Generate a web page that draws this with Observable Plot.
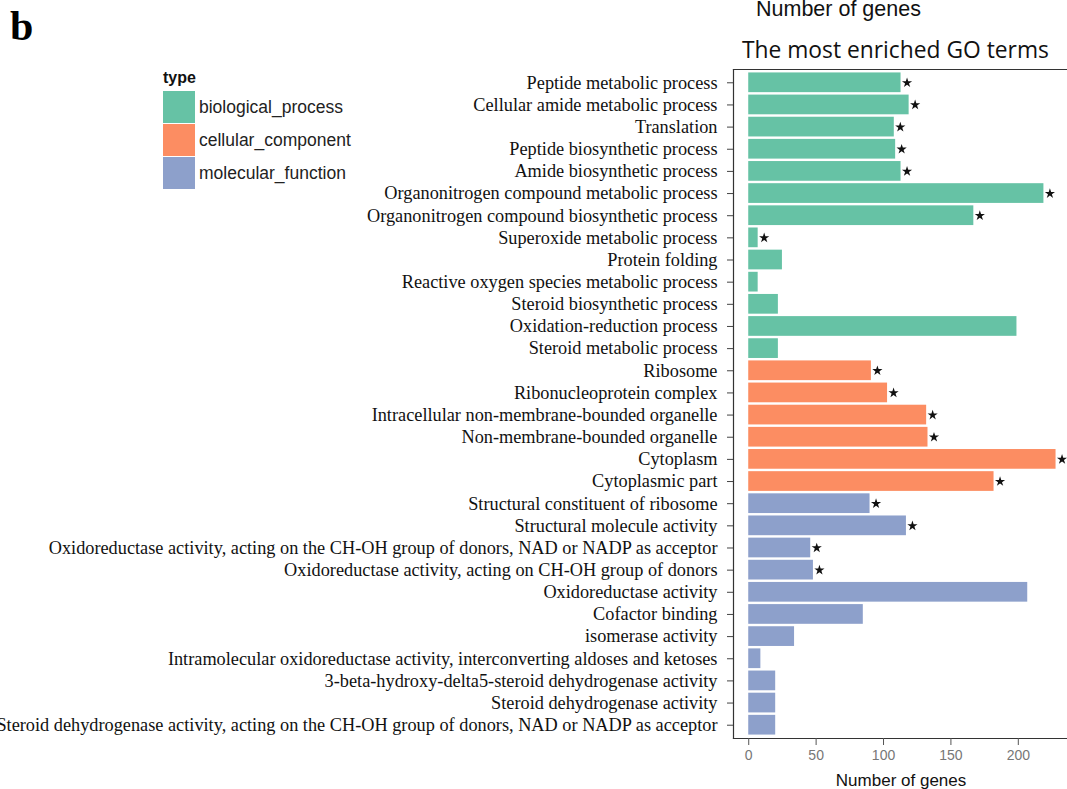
<!DOCTYPE html>
<html>
<head>
<meta charset="utf-8">
<script src="https://cdn.jsdelivr.net/npm/d3@7"></script>
<script src="https://cdn.jsdelivr.net/npm/@observablehq/plot@0.6"></script>
<style>
  html, body { margin: 0; padding: 0; background: #fff; overflow: hidden; }
  #wrap { position: relative; width: 1067px; height: 789px; }
  #wrap svg { overflow: visible; }
  .panel-tag { position: absolute; left: 10px; top: 2px; font: bold 42px "Liberation Serif", serif; color: #000; }
  .top-title { position: absolute; left: 756px; top: -1px; font: 21.5px/1 "Liberation Sans", Arial, sans-serif; color: #111; white-space: nowrap; }
  .sub-title { position: absolute; left: 742px; top: 34px; font: 22.8px "Open Sans", sans-serif; color: #111; white-space: nowrap; }
  .legend { position: absolute; left: 163px; top: 69px; font: 17.5px "Liberation Sans", Arial, sans-serif; color: #222; }
  .legend .head { font-weight: bold; font-size: 16px; margin-bottom: 4px; color: #111; }
  .legend .row { display: flex; align-items: center; height: 33px; }
  .legend .sw { width: 32px; height: 32px; margin-right: 4px; border-bottom: 1px solid #fff; }
</style>
</head>
<body>
<div id="wrap"></div>
<script>
// GO terms, top to bottom
const terms = [
  "Peptide metabolic process",
  "Cellular amide metabolic process",
  "Translation",
  "Peptide biosynthetic process",
  "Amide biosynthetic process",
  "Organonitrogen compound metabolic process",
  "Organonitrogen compound biosynthetic process",
  "Superoxide metabolic process",
  "Protein folding",
  "Reactive oxygen species metabolic process",
  "Steroid biosynthetic process",
  "Oxidation-reduction process",
  "Steroid metabolic process",
  "Ribosome",
  "Ribonucleoprotein complex",
  "Intracellular non-membrane-bounded organelle",
  "Non-membrane-bounded organelle",
  "Cytoplasm",
  "Cytoplasmic part",
  "Structural constituent of ribosome",
  "Structural molecule activity",
  "Oxidoreductase activity, acting on the CH-OH group of donors, NAD or NADP as acceptor",
  "Oxidoreductase activity, acting on CH-OH group of donors",
  "Oxidoreductase activity",
  "Cofactor binding",
  "isomerase activity",
  "Intramolecular oxidoreductase activity, interconverting aldoses and ketoses",
  "3-beta-hydroxy-delta5-steroid dehydrogenase activity",
  "Steroid dehydrogenase activity",
  "Steroid dehydrogenase activity, acting on the CH-OH group of donors, NAD or NADP as acceptor"
];

// Number of genes per term
const geneCounts = [113, 119, 108, 109, 113, 219, 167, 7, 25, 7, 22, 199, 22,
                    91, 103, 132, 133, 228, 182,
                    90, 117, 46, 48, 207, 85, 34, 9, 20, 20, 20];

// GO category per term
const termTypes = [
  ...Array(13).fill("biological_process"),
  ...Array(6).fill("cellular_component"),
  ...Array(11).fill("molecular_function")
];

// Significantly enriched terms (marked with a star)
const significant = [1,1,1,1,1,1,1,1,0,0,0,0,0,
                     1,1,1,1,1,1,
                     1,1,1,1,0,0,0,0,0,0,0];

const typeNames = ["biological_process", "cellular_component", "molecular_function"];
const typeColors = ["#66c2a5", "#fc8d62", "#8da0cb"];
const xTicks = [0, 50, 100, 150, 200];

const rows = terms.map((t, i) => ({term: t, n: geneCounts[i], type: termTypes[i], sig: significant[i] === 1}));

const chart = Plot.plot({
  width: 1067,
  height: 789,
  marginTop: 69,
  marginLeft: 733,
  marginRight: 0,
  marginBottom: 51,
  style: {background: "transparent", overflow: "visible"},
  x: {domain: [-11.3, 236.5], ticks: xTicks, label: null},
  y: {domain: terms, paddingInner: 0.11, paddingOuter: 0.155, round: false, label: null},
  color: {domain: typeNames, range: typeColors},
  marks: [
    Plot.barX(rows, {x1: 0, x2: "n", y: "term", fill: "type"}),
    Plot.dot(rows.filter(d => d.sig), {x: "n", y: "term", dx: 6, symbol: "star", r: 3.2, fill: "#111", stroke: null}),
    // panel frame: left, top, bottom
    Plot.frame({anchor: "left", stroke: "#333", strokeWidth: 1.2}),
    Plot.frame({anchor: "top", stroke: "#333", strokeWidth: 1.2}),
    Plot.frame({anchor: "bottom", stroke: "#333", strokeWidth: 1.2}),
    Plot.axisY({tickSize: 6, tickPadding: 10, stroke: "#444", fontSize: 18.3, fontFamily: "Liberation Serif, serif", fill: "#111"}),
    Plot.axisX({ticks: xTicks, tickSize: 7, tickPadding: 5, stroke: "#555", fontSize: 14, fontFamily: "Liberation Sans, Arial, sans-serif", fill: "#777", label: null}),
    Plot.text(["Number of genes"], {frameAnchor: "bottom", dy: 47, x: 113, fontSize: 17, fontFamily: "Liberation Sans, Arial, sans-serif", fill: "#111"})
  ]
});

const wrap = document.getElementById("wrap");
wrap.appendChild(chart);

const tag = document.createElement("div");
tag.className = "panel-tag"; tag.textContent = "b";
wrap.appendChild(tag);

const t1 = document.createElement("div");
t1.className = "top-title"; t1.textContent = "Number of genes";
wrap.appendChild(t1);

const t2 = document.createElement("div");
t2.className = "sub-title"; t2.textContent = "The most enriched GO terms";
wrap.appendChild(t2);

const legend = document.createElement("div");
legend.className = "legend";
legend.innerHTML = `<div class="head">type</div>` + typeNames.map((n, i) =>
  `<div class="row"><div class="sw" style="background:${typeColors[i]}"></div><span>${n}</span></div>`).join("");
wrap.appendChild(legend);
</script>
</body>
</html>
